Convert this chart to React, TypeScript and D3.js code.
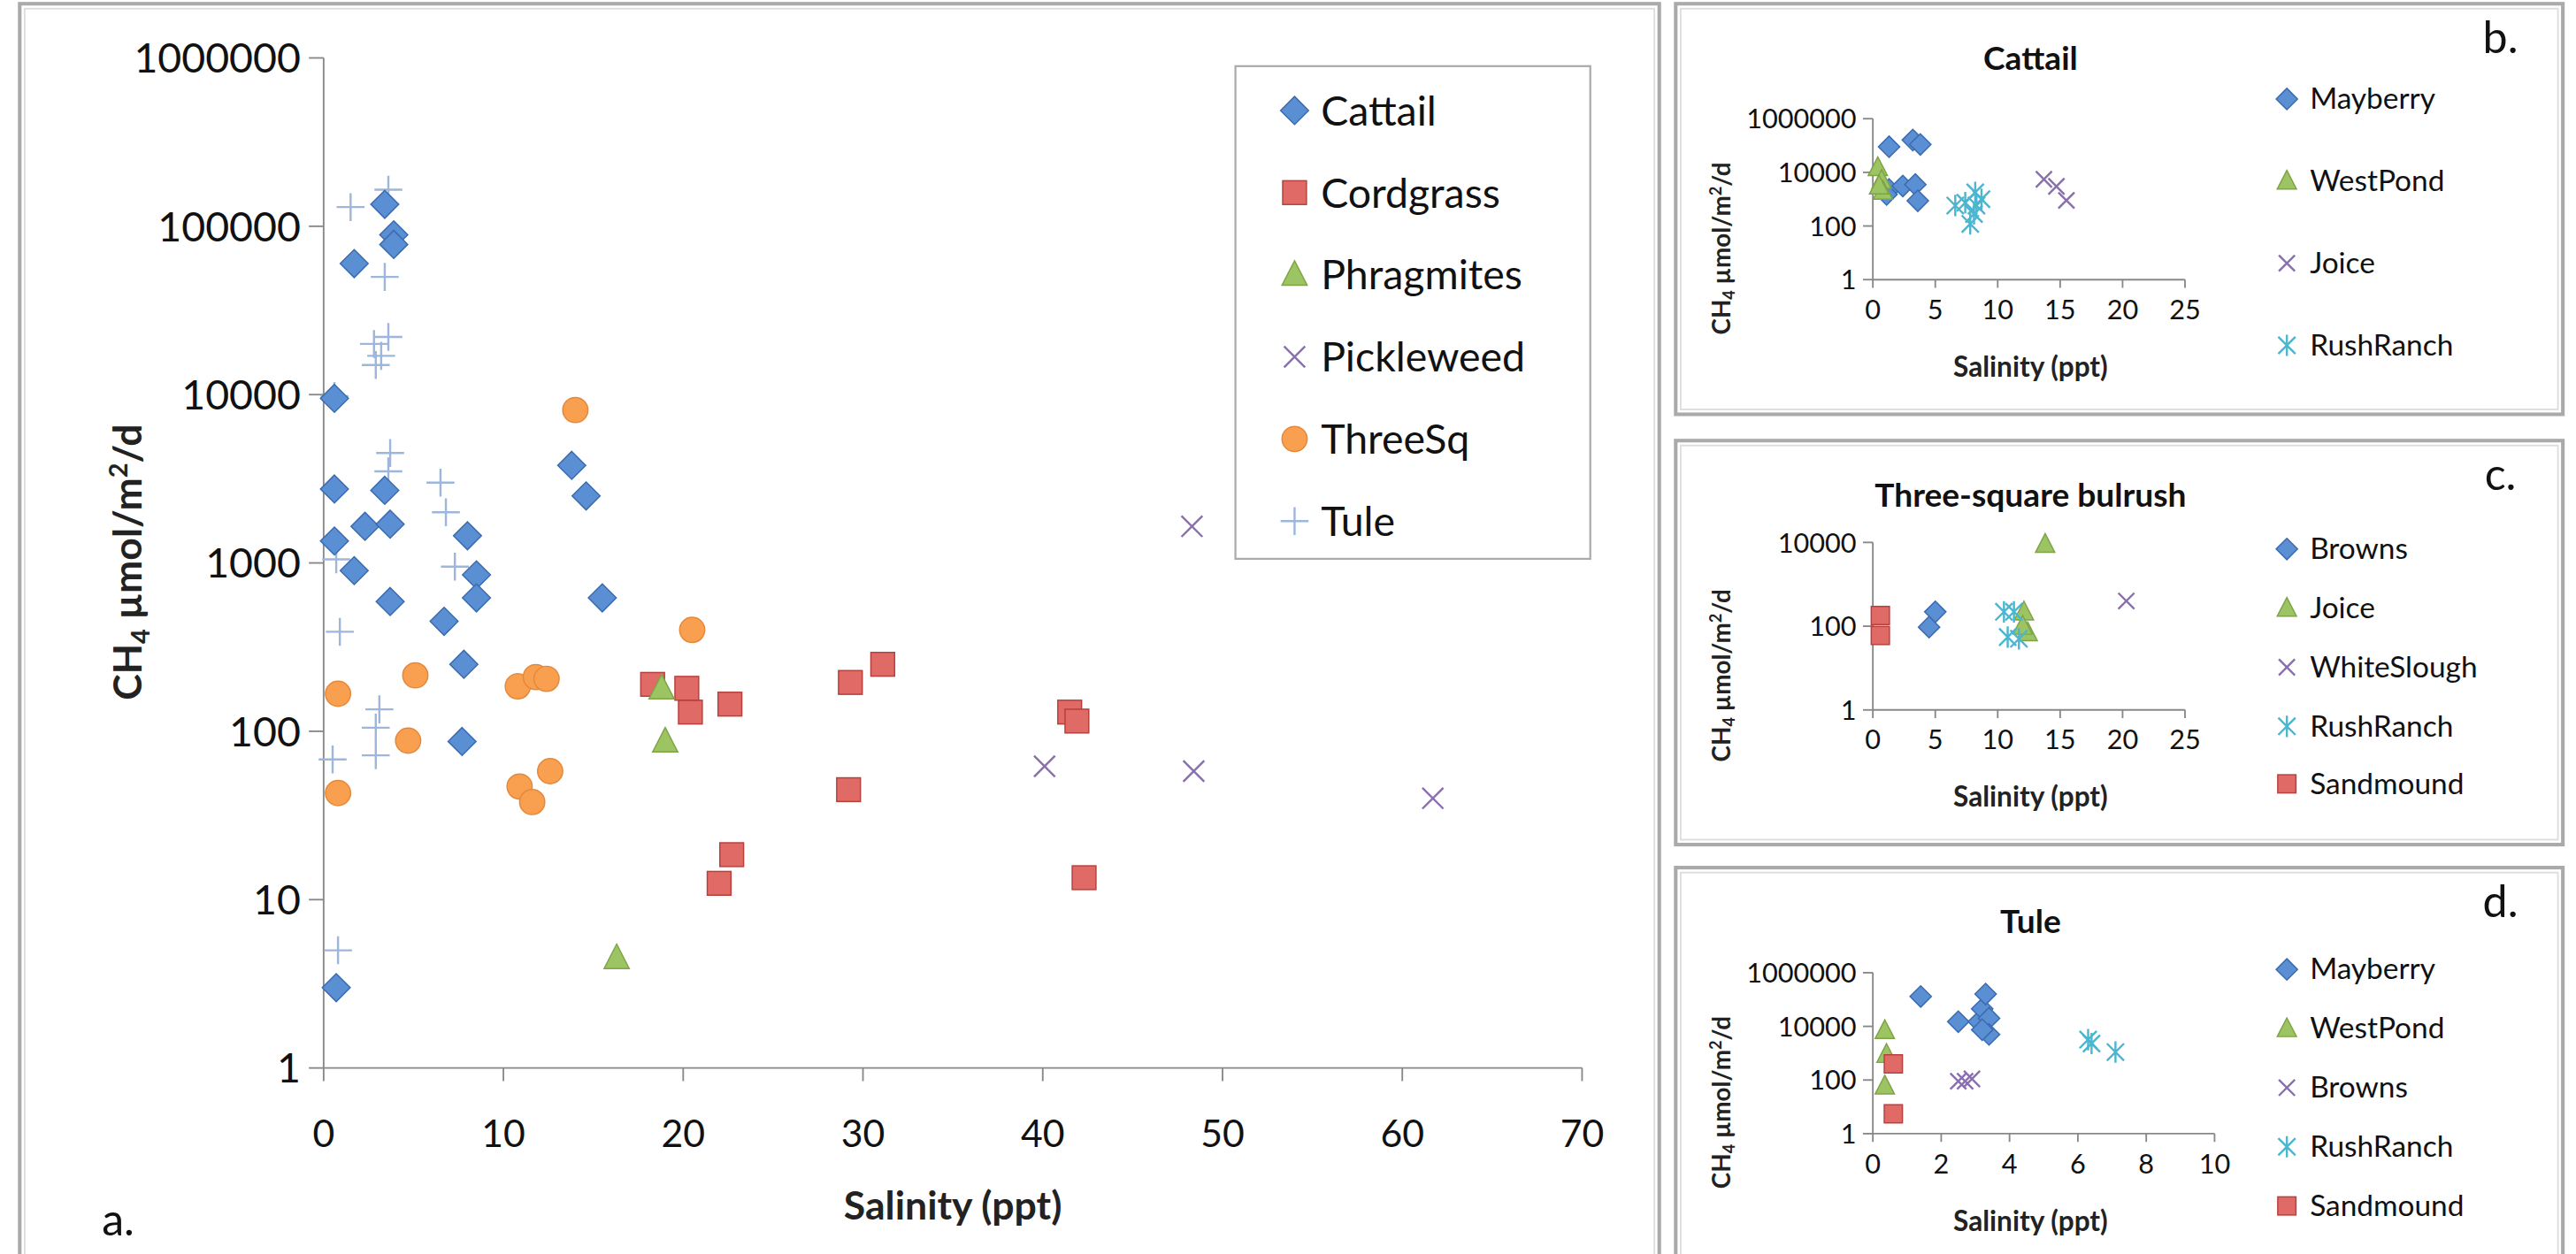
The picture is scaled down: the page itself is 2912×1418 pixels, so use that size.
import React from "react";
import * as d3 from "d3";

// ---- Panel a data ----
const cattailS = [0.7, 0.6, 0.6, 0.6, 1.7, 1.7, 2.3, 3.4, 3.9, 3.9, 3.4, 3.7, 3.7, 6.7, 8.0, 8.5, 8.5, 7.8, 7.7, 13.8, 14.6, 15.5];
const cattailV = [3, 9500, 2750, 1350, 900, 60000, 1650, 135000, 89000, 78000, 2700, 1700, 590, 450, 1450, 850, 620, 250, 87, 3800, 2500, 620];
const cordS = [18.3, 20.4, 20.2, 22.6, 29.3, 31.1, 29.2, 22.7, 22.0, 41.5, 41.9, 42.3];
const cordV = [190, 130, 180, 145, 195, 250, 45, 18.5, 12.5, 130, 115, 13.5];
const phragS = [16.3, 18.8, 19.0];
const phragV = [4.5, 180, 87];
const pickS = [48.3, 40.1, 48.4, 61.7];
const pickV = [1650, 62, 58, 40];
const threeS = [0.8, 0.8, 5.1, 4.7, 10.8, 11.8, 12.4, 10.9, 11.6, 12.6, 14.0, 20.5];
const threeV = [167, 43, 215, 88, 185, 210, 205, 47, 38, 58, 8100, 400];
const tuleS = [1.5, 3.6, 3.4, 2.8, 3.6, 3.2, 2.9, 3.7, 3.6, 0.6, 6.5, 6.8, 7.3, 0.7, 0.9, 3.1, 2.9, 2.9, 0.5, 0.8];
const tuleV = [130000, 165000, 50000, 20000, 22000, 17000, 15000, 4500, 3500, 9800, 3000, 2000, 950, 1050, 390, 135, 105, 72, 68, 5];

// ---- Panel b (Cattail) ----
const bMayS = [1.3, 3.2, 3.8, 1.3, 2.4, 3.4, 3.6, 1.1];
const bMayV = [90000, 160000, 110000, 2300, 3100, 3500, 870, 1500];
const bWestS = [0.4, 0.7, 0.8, 0.5];
const bWestV = [15000, 5000, 2000, 3100];
const bJoiceS = [13.7, 14.7, 15.5];
const bJoiceV = [5500, 3000, 900];
const bRushS = [7.4, 8.2, 8.7, 8.1, 7.8, 6.6, 8.3];
const bRushV = [740, 1800, 1000, 280, 120, 580, 580];

// ---- Panel c (Three-square bulrush) ----
const cBrownsS = [5.0, 4.5];
const cBrownsV = [220, 95];
const cJoiceS = [13.8, 12.1, 12.4, 12.0];
const cJoiceV = [9000, 220, 70, 100];
const cWhiteS = [20.3];
const cWhiteV = [400];
const cRushS = [10.5, 11.3, 10.8, 11.7];
const cRushV = [220, 220, 55, 50];
const cSandS = [0.6, 0.6];
const cSandV = [180, 60];

// ---- Panel d (Tule) ----
const dMayS = [1.4, 2.5, 3.1, 3.2, 3.3, 3.4, 3.4, 3.2];
const dMayV = [130000, 15000, 15000, 45000, 160000, 20000, 5000, 7500];
const dWestS = [0.35, 0.4, 0.35];
const dWestV = [7000, 900, 60];
const dBrownsS = [2.5, 2.7, 2.9];
const dBrownsV = [90, 90, 110];
const dRushS = [6.3, 6.4, 7.1];
const dRushV = [3200, 2300, 1100];
const dSandS = [0.6, 0.6];
const dSandV = [400, 5.5];

const C = {
  diamond: { fill: "#5b8fd4", stroke: "#3a6bb0" },
  square: { fill: "#e06a66", stroke: "#b8403c" },
  triangle: { fill: "#9dc463", stroke: "#7ea447" },
  x: { fill: "none", stroke: "#8a6fae" },
  circle: { fill: "#f9a050", stroke: "#e6883a" },
  plus: { fill: "none", stroke: "#9db6dc" },
  star: { fill: "none", stroke: "#4bb6cf" },
};
type Kind = keyof typeof C;

function Marker({ kind, x, y, r }: { kind: Kind; x: number; y: number; r: number }) {
  const c = C[kind];
  switch (kind) {
    case "diamond":
      return <path d={`M${x},${y - r}L${x + r},${y}L${x},${y + r}L${x - r},${y}Z`} fill={c.fill} stroke={c.stroke} strokeWidth={0.8} />;
    case "square":
      return <rect x={x - r * 0.85} y={y - r * 0.85} width={r * 1.7} height={r * 1.7} fill={c.fill} stroke={c.stroke} strokeWidth={0.8} />;
    case "triangle":
      return <path d={`M${x},${y - r}L${x + r * 0.9},${y + r * 0.75}L${x - r * 0.9},${y + r * 0.75}Z`} fill={c.fill} stroke={c.stroke} strokeWidth={0.8} />;
    case "circle":
      return <circle cx={x} cy={y} r={r * 0.9} fill={c.fill} stroke={c.stroke} strokeWidth={0.8} />;
    case "x":
      return <path d={`M${x - r * 0.75},${y - r * 0.75}L${x + r * 0.75},${y + r * 0.75}M${x - r * 0.75},${y + r * 0.75}L${x + r * 0.75},${y - r * 0.75}`} stroke={c.stroke} strokeWidth={1.3} fill="none" />;
    case "plus":
      return <path d={`M${x - r},${y}L${x + r},${y}M${x},${y - r}L${x},${y + r}`} stroke={c.stroke} strokeWidth={1.3} fill="none" />;
    case "star":
      return <path d={`M${x - r * 0.8},${y - r * 0.8}L${x + r * 0.8},${y + r * 0.8}M${x - r * 0.8},${y + r * 0.8}L${x + r * 0.8},${y - r * 0.8}M${x},${y - r}L${x},${y + r}`} stroke={c.stroke} strokeWidth={1.3} fill="none" />;
  }
  return null;
}

type Series = { name: string; kind: Kind; s: number[]; v: number[] };
const FONT = "Lato, 'Open Sans', sans-serif";

function Frame({ x, y, w, h }: { x: number; y: number; w: number; h: number }) {
  return (
    <g fill="none">
      <rect x={x} y={y} width={w} height={h} stroke="#aaa" strokeWidth={2.2} />
      <rect x={x + 3} y={y + 3} width={w - 6} height={h - 6} stroke="#ddd" strokeWidth={1} />
    </g>
  );
}

function YTitle({ x, y, size }: { x: number; y: number; size: number }) {
  return (
    <text transform={`translate(${x},${y}) rotate(-90)`} textAnchor="middle" fontFamily={FONT} fontWeight="bold" fontSize={size} fill="#222">
      CH<tspan fontSize={size * 0.65} dy={size * 0.2}>4</tspan>
      <tspan dy={-size * 0.2}> µmol/m</tspan>
      <tspan fontSize={size * 0.65} dy={-size * 0.35}>2</tspan>
      <tspan dy={size * 0.35}>/d</tspan>
    </text>
  );
}

function SmallPanel(p: {
  top: number; h: number; title: string; letter: string; series: Series[];
  yTop: number; yBot: number; yMaxExp: number; yTicks: number[]; xMax: number; xStep: number; xEnd: number;
  legendY: number[];
}) {
  const x = d3.scaleLinear().domain([0, p.xMax]).range([1140, p.xEnd]);
  const y = d3.scaleLog().domain([1, Math.pow(10, p.yMaxExp)]).range([p.yBot, p.yTop]);
  const xt = d3.range(0, p.xMax + 0.001, p.xStep);
  return (
    <g>
      <Frame x={1020} y={p.top} w={540} h={p.h} />
      <text x={1236} y={p.top + 40} textAnchor="middle" fontFamily={FONT} fontWeight="bold" fontSize={20} fill="#111">{p.title}</text>
      <text x={1522} y={p.top + 30} textAnchor="middle" fontFamily={FONT} fontSize={27} fill="#111">{p.letter}</text>
      <line x1={1140} x2={1140} y1={y(Math.pow(10, p.yMaxExp))} y2={p.yBot} stroke="#888" />
      <line x1={1140} x2={x(p.xMax)} y1={p.yBot} y2={p.yBot} stroke="#888" />
      {p.yTicks.map((t) => (
        <g key={t}>
          <line x1={1134} x2={1140} y1={y(t)} y2={y(t)} stroke="#888" />
          <text x={1130} y={y(t) + 6} textAnchor="end" fontFamily={FONT} fontSize={16.5} fill="#111">{t}</text>
        </g>
      ))}
      {xt.map((t) => (
        <g key={t}>
          <line x1={x(t)} x2={x(t)} y1={p.yBot} y2={p.yBot + 5} stroke="#888" />
          <text x={x(t)} y={p.yBot + 24} textAnchor="middle" fontFamily={FONT} fontSize={16.5} fill="#111">{t}</text>
        </g>
      ))}
      <text x={1236} y={p.yBot + 59} textAnchor="middle" fontFamily={FONT} fontWeight="bold" fontSize={17} fill="#222">Salinity (ppt)</text>
      <YTitle x={1053} y={(p.yTop + p.yBot) / 2 + 30} size={15} />
      {p.series.map((s) => s.s.map((sv, i) => <Marker key={s.name + i} kind={s.kind} x={x(sv)} y={y(s.v[i])} r={6.5} />))}
      {p.series.map((s, i) => (
        <g key={s.name}>
          <Marker kind={s.kind} x={1392} y={p.legendY[i]} r={6.5} />
          <text x={1406} y={p.legendY[i] + 6} fontFamily={FONT} fontSize={18} fill="#111">{s.name}</text>
        </g>
      ))}
    </g>
  );
}

export default function App() {
  const x = d3.scaleLinear().domain([0, 70]).range([197, 963]);
  const y = d3.scaleLog().domain([1, 1e6]).range([650, 35]);
  const main: Series[] = [
    { name: "Cattail", kind: "diamond", s: cattailS, v: cattailV },
    { name: "Cordgrass", kind: "square", s: cordS, v: cordV },
    { name: "Phragmites", kind: "triangle", s: phragS, v: phragV },
    { name: "Pickleweed", kind: "x", s: pickS, v: pickV },
    { name: "ThreeSq", kind: "circle", s: threeS, v: threeV },
    { name: "Tule", kind: "plus", s: tuleS, v: tuleV },
  ];
  const drawOrder = [main[5], main[0], main[1], main[2], main[3], main[4]];
  const yTicks = [1, 10, 100, 1000, 10000, 100000, 1000000];
  const xTicks = d3.range(0, 71, 10);
  return (
    <svg width={2912} height={1418} viewBox="0 0 1568 763" style={{ position: "absolute", left: 0, top: 0, background: "#fff" }}>
      <rect x={0} y={0} width={1568} height={763} fill="#fff" />
      <Frame x={12} y={2} w={998} h={770} />
      <line x1={197} x2={197} y1={35} y2={650} stroke="#888" />
      <line x1={197} x2={963} y1={650} y2={650} stroke="#888" />
      {yTicks.map((t) => (
        <g key={t}>
          <line x1={188} x2={197} y1={y(t)} y2={y(t)} stroke="#888" />
          <text x={183} y={y(t) + 9} textAnchor="end" fontFamily={FONT} fontSize={25} fill="#111">{t}</text>
        </g>
      ))}
      {xTicks.map((t) => (
        <g key={t}>
          <line x1={x(t)} x2={x(t)} y1={650} y2={658} stroke="#888" />
          <text x={x(t)} y={698} textAnchor="middle" fontFamily={FONT} fontSize={23} fill="#111">{t}</text>
        </g>
      ))}
      <text x={580} y={742} textAnchor="middle" fontFamily={FONT} fontWeight="bold" fontSize={24} fill="#222">Salinity (ppt)</text>
      <YTitle x={86} y={342} size={24} />
      <text x={62} y={752} fontFamily={FONT} fontSize={27} fill="#111">a.</text>
      {drawOrder.map((s) => s.s.map((sv, i) => <Marker key={s.name + i} kind={s.kind} x={x(sv)} y={y(s.v[i])} r={8.5} />))}
      <rect x={752} y={40} width={216} height={300} fill="#fff" stroke="#aaa" strokeWidth={1.2} />
      {main.map((s, i) => (
        <g key={s.name}>
          <Marker kind={s.kind} x={788} y={67 + i * 50} r={8.5} />
          <text x={804} y={76 + i * 50} fontFamily={FONT} fontSize={25} fill="#111">{s.name}</text>
        </g>
      ))}
      <SmallPanel top={2} h={250} title="Cattail" letter="b." yTop={72} yBot={170} yMaxExp={6}
        yTicks={[1, 100, 10000, 1000000]} xMax={25} xStep={5} xEnd={1330} legendY={[60, 110, 160, 210]}
        series={[
          { name: "Mayberry", kind: "diamond", s: bMayS, v: bMayV },
          { name: "WestPond", kind: "triangle", s: bWestS, v: bWestV },
          { name: "Joice", kind: "x", s: bJoiceS, v: bJoiceV },
          { name: "RushRanch", kind: "star", s: bRushS, v: bRushV },
        ]} />
      <SmallPanel top={268} h={246} title="Three-square bulrush" letter="c." yTop={330} yBot={432} yMaxExp={4}
        yTicks={[1, 100, 10000]} xMax={25} xStep={5} xEnd={1330} legendY={[334, 370, 406, 442, 477]}
        series={[
          { name: "Browns", kind: "diamond", s: cBrownsS, v: cBrownsV },
          { name: "Joice", kind: "triangle", s: cJoiceS, v: cJoiceV },
          { name: "WhiteSlough", kind: "x", s: cWhiteS, v: cWhiteV },
          { name: "RushRanch", kind: "star", s: cRushS, v: cRushV },
          { name: "Sandmound", kind: "square", s: cSandS, v: cSandV },
        ]} />
      <SmallPanel top={528} h={240} title="Tule" letter="d." yTop={592} yBot={690} yMaxExp={6}
        yTicks={[1, 100, 10000, 1000000]} xMax={10} xStep={2} xEnd={1348} legendY={[590, 626, 662, 698, 734]}
        series={[
          { name: "Mayberry", kind: "diamond", s: dMayS, v: dMayV },
          { name: "WestPond", kind: "triangle", s: dWestS, v: dWestV },
          { name: "Browns", kind: "x", s: dBrownsS, v: dBrownsV },
          { name: "RushRanch", kind: "star", s: dRushS, v: dRushV },
          { name: "Sandmound", kind: "square", s: dSandS, v: dSandV },
        ]} />
    </svg>
  );
}
